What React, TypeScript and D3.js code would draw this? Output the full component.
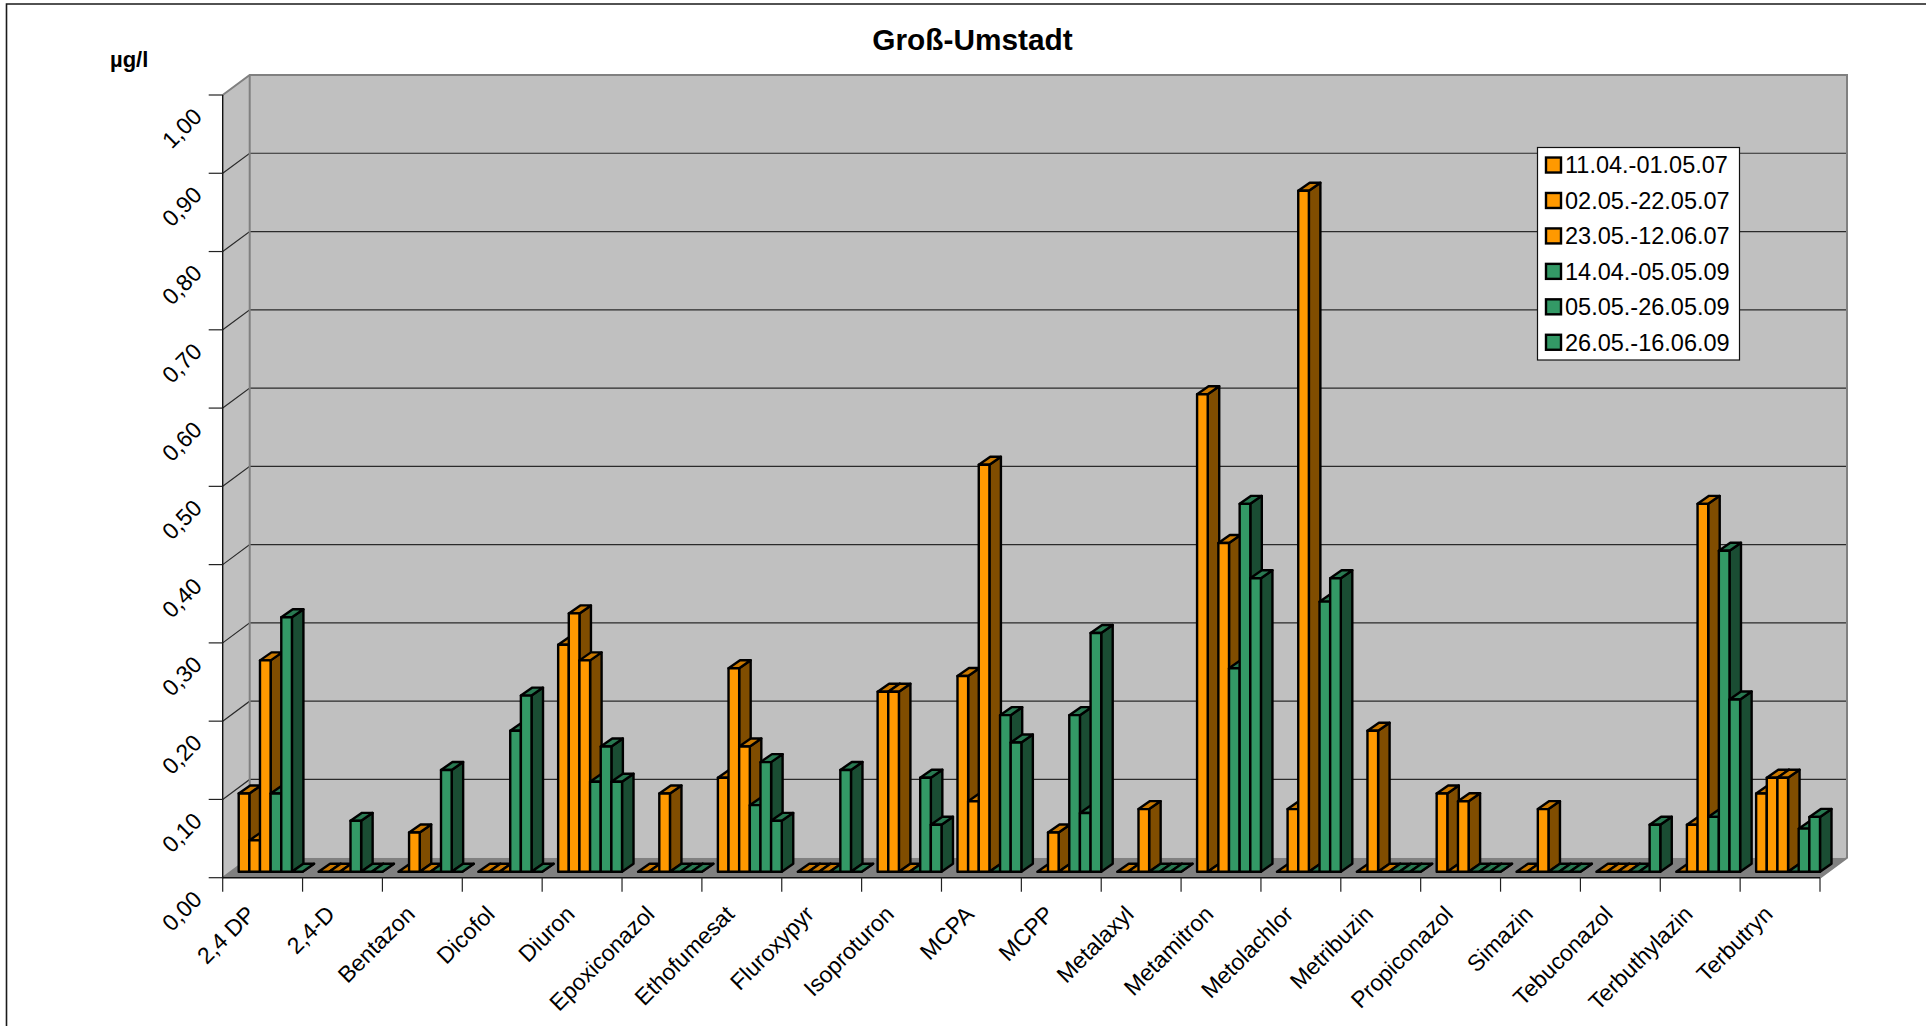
import * as d3 from 'd3';

const width = 1926;
const height = 1026;
const frontLeft = 222.7;
const frontRight = 1820;
const frontBottom = 877.7;
const frontTop = 95;
const wallDx = 27;
const wallDy = -20;
const barOffsetX = 8;
const barOffsetY = -6;
const barDepthX = 11.5;
const barDepthY = -8;
const groupGap = 8;

const categories = ["2,4 DP", "2,4-D", "Bentazon", "Dicofol", "Diuron", "Epoxiconazol", "Ethofumesat", "Fluroxypyr", "Isoproturon", "MCPA", "MCPP", "Metalaxyl", "Metamitron", "Metolachlor", "Metribuzin", "Propiconazol", "Simazin", "Tebuconazol", "Terbuthylazin", "Terbutryn"];

const s1 = [0.10, 0, 0, 0, 0.29, 0, 0.12, 0, 0.23, 0.25, 0, 0, 0.61, 0, 0, 0.10, 0, 0, 0, 0.10];
const s2 = [0.04, 0, 0.05, 0, 0.33, 0, 0.26, 0, 0.23, 0.09, 0.05, 0, 0, 0.08, 0.18, 0, 0, 0, 0.06, 0.12];
const s3 = [0.27, 0, 0, 0, 0.27, 0.10, 0.16, 0, 0, 0.52, 0, 0.08, 0.42, 0.87, 0, 0.09, 0.08, 0, 0.47, 0.12];
const s4 = [0.10, 0.065, 0, 0.18, 0.115, 0, 0.085, 0, 0, 0, 0.20, 0, 0.26, 0, 0, 0, 0, 0, 0.07, 0];
const s5 = [0.325, 0, 0.13, 0.225, 0.16, 0, 0.14, 0.13, 0.12, 0.20, 0.075, 0, 0.47, 0.345, 0, 0, 0, 0, 0.41, 0.055];
const s6 = [0, 0, 0, 0, 0.115, 0, 0.065, 0, 0.06, 0.165, 0.305, 0, 0.375, 0.375, 0, 0, 0, 0.06, 0.22, 0.07];

const series = [s1, s2, s3, s4, s5, s6];
const seriesNames = ["11.04.-01.05.07", "02.05.-22.05.07", "23.05.-12.06.07", "14.04.-05.05.09", "05.05.-26.05.09", "26.05.-16.06.09"];
const seriesKind = [0, 0, 0, 1, 1, 1];
const fronts = ["#FF9900", "#339966"];
const sides = ["#804D00", "#1A4D33"];
const tops = ["#CC7A00", "#297A52"];

const font = "'Liberation Sans', Arial, sans-serif";

const x = d3.scaleBand<string>(categories, [frontLeft, frontRight]);
const xBar = d3.scaleBand<number>(d3.range(6), [groupGap, x.bandwidth() - groupGap]);
const y = d3.scaleLinear([0, 1], [frontBottom, frontTop]);
const yTicks = y.ticks(10);
const fmt = (v: number) => d3.format(".2f")(v).replace(".", ",");
const poly = d3.line();

const legendY = d3.scaleBand<number>(d3.range(6), [147.3, 360]);

const App = () => {
    return (
        <svg width={width} height={height} style={{ position: "absolute", left: 0, top: 0, display: "block", background: "#fff" }} fontFamily={font}>
            {/* frame */}
            <path d="M6.5,1026V4H1926" fill="none" stroke="#1a1a1a" strokeWidth={1.6} />

            <text x={972.5} y={50} textAnchor="middle" fontSize={29.8} fontWeight="bold">Groß-Umstadt</text>
            <text x={110} y={67} fontSize={22} fontWeight="bold">µg/l</text>

            {/* walls */}
            <path d={poly([[frontLeft, frontBottom], [frontLeft, frontTop], [frontLeft + wallDx, frontTop + wallDy], [frontLeft + wallDx, frontBottom + wallDy]]) + "Z"} fill="#C0C0C0" />
            <rect x={frontLeft + wallDx} y={frontTop + wallDy} width={frontRight - frontLeft} height={frontBottom - frontTop} fill="#C0C0C0" />
            <path d={poly([[frontLeft, frontBottom], [frontRight, frontBottom], [frontRight + wallDx, frontBottom + wallDy], [frontLeft + wallDx, frontBottom + wallDy]]) + "Z"} fill="#808080" />

            {/* gridlines */}
            {yTicks.filter(t => t > 0 && t < 1).map(t => (
                <path key={t} d={poly([[frontLeft, y(t)], [frontLeft + wallDx, y(t) + wallDy], [frontRight + wallDx, y(t) + wallDy]]) as string} fill="none" stroke="#2a2a2a" strokeWidth={1.2} />
            ))}

            {/* wall edges */}
            <path d={poly([[frontLeft, frontTop], [frontLeft + wallDx, frontTop + wallDy], [frontRight + wallDx, frontTop + wallDy], [frontRight + wallDx, frontBottom + wallDy], [frontRight, frontBottom]]) as string} fill="none" stroke="#808080" strokeWidth={2} />
            <path d={poly([[frontLeft + wallDx, frontTop + wallDy], [frontLeft + wallDx, frontBottom + wallDy], [frontLeft, frontBottom]]) as string} fill="none" stroke="#808080" strokeWidth={2} />

            {/* axes */}
            <path d={poly([[frontLeft, frontTop], [frontLeft, frontBottom], [frontRight, frontBottom]]) as string} fill="none" stroke="#111" strokeWidth={1.4} />
            {yTicks.map(t => (
                <g key={t}>
                    <line x1={frontLeft - 14} x2={frontLeft} y1={y(t)} y2={y(t)} stroke="#222" strokeWidth={1.2} />
                    <text transform={`translate(${frontLeft - 41},${y(t) + 33}) rotate(-45)`} textAnchor="middle" dy="0.36em" fontSize={23}>{fmt(t)}</text>
                </g>
            ))}
            {[...categories, null].map((c, i) => {
                const tx = frontLeft + i * x.bandwidth();
                return <line key={i} x1={tx} x2={tx} y1={frontBottom} y2={frontBottom + 14} stroke="#222" strokeWidth={1.2} />;
            })}
            {categories.map(c => (
                <text key={c} transform={`translate(${(x(c) as number) + x.bandwidth() / 2 - 12},${frontBottom + 32}) rotate(-45)`} textAnchor="end" dy="0.36em" fontSize={23}>{c}</text>
            ))}

            {/* bars, left to right so each one hides the side of the one before */}
            <g stroke="#000" strokeWidth={2.4} strokeLinejoin="round">
                {categories.map((c, ci) => (
                    <g key={c}>
                        {series.map((s, si) => {
                            const k = seriesKind[si];
                            const x0 = (x(c) as number) + (xBar(si) as number) + barOffsetX;
                            const x1 = x0 + xBar.bandwidth();
                            const yb = y(0) + barOffsetY;
                            const yt = y(s[ci]) + barOffsetY;
                            return (
                                <g key={si}>
                                    <path d={poly([[x1, yb], [x1 + barDepthX, yb + barDepthY], [x1 + barDepthX, yt + barDepthY], [x1, yt]]) + "Z"} fill={sides[k]} />
                                    <path d={poly([[x0, yt], [x1, yt], [x1 + barDepthX, yt + barDepthY], [x0 + barDepthX, yt + barDepthY]]) + "Z"} fill={tops[k]} />
                                    <rect x={x0} y={yt} width={x1 - x0} height={yb - yt} fill={fronts[k]} />
                                </g>
                            );
                        })}
                    </g>
                ))}
            </g>

            {/* legend */}
            <rect x={1537.5} y={147.5} width={202} height={212.5} fill="#fff" stroke="#111" strokeWidth={1.2} />
            {seriesNames.map((n, i) => {
                const cy = (legendY(i) as number) + legendY.bandwidth() / 2;
                return (
                    <g key={n}>
                        <rect x={1546} y={cy - 7.5} width={15} height={15} fill={fronts[seriesKind[i]]} stroke="#000" strokeWidth={2.4} />
                        <text x={1565} y={cy} dy="0.36em" fontSize={23.5}>{n}</text>
                    </g>
                );
            })}
        </svg>
    );
};

export default App;
